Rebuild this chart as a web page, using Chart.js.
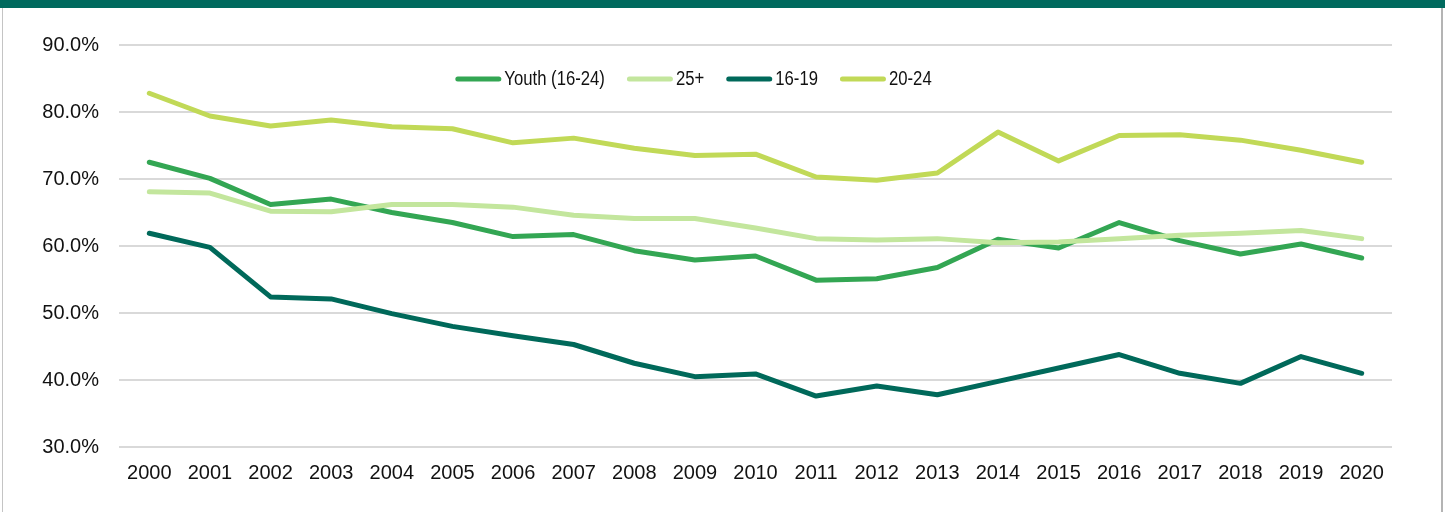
<!DOCTYPE html>
<html>
<head>
<meta charset="utf-8">
<script src="https://cdn.jsdelivr.net/npm/chart.js@4/dist/chart.umd.min.js"></script>
<style>
  html, body { margin: 0; padding: 0; background: #fff; }
  #wrap { position: relative; width: 1445px; height: 512px; background: #fff; overflow: hidden; }
  #c { position: absolute; left: 0; top: 0; }
  #bar { position: absolute; left: 0; top: 0; width: 1445px; height: 8px; background: #006a5e; }
  #bl { position: absolute; left: 2px; top: 8px; width: 1px; height: 504px; background: #c4c4c4; }
  #br { position: absolute; left: 1441px; top: 8px; width: 2px; height: 504px; background: #b4b4b4; }
</style>
</head>
<body>
<div id="wrap">
  <canvas id="c" width="1445" height="512"></canvas>
  <div id="bar"></div>
  <div id="bl"></div>
  <div id="br"></div>
</div>
<script>
const years = ['2000','2001','2002','2003','2004','2005','2006','2007','2008','2009','2010',
               '2011','2012','2013','2014','2015','2016','2017','2018','2019','2020'];
const seriesNames = ['Youth (16-24)', '25+', '16-19', '20-24'];
const youth    = [72.5,70.1,66.2,67.0,65.0,63.5,61.4,61.7,59.3,57.9,58.5,54.9,55.1,56.8,61.0,59.7,63.5,60.8,58.8,60.3,58.2];
const age25    = [68.1,67.9,65.2,65.1,66.2,66.2,65.8,64.6,64.1,64.1,62.7,61.1,60.9,61.1,60.5,60.6,61.1,61.6,61.9,62.3,61.1];
const age1619  = [61.9,59.8,52.4,52.1,49.9,48.0,46.6,45.3,42.5,40.5,40.9,37.6,39.1,37.8,39.8,41.8,43.8,41.0,39.5,43.5,41.0];
const age2024  = [82.8,79.4,77.9,78.8,77.8,77.5,75.4,76.1,74.6,73.5,73.7,70.3,69.8,70.9,77.0,72.7,76.5,76.6,75.8,74.3,72.5];
const yMin = 30, yMax = 90, yStep = 10;

const colors = ['#33a653', '#c3e69d', '#00695a', '#c1d957'];
const seriesData = [youth, age25, age1619, age2024];

const FONT = '"Liberation Sans", Arial, Helvetica, sans-serif';

const topLegend = {
  id: 'topLegend',
  afterDatasetsDraw(chart, args, opts) {
    const ctx = chart.ctx;
    ctx.save();
    ctx.font = opts.fontSize + 'px ' + FONT;
    const sx = opts.textScaleX;
    const items = chart.data.datasets.map(ds => ({
      label: ds.label, color: ds.borderColor,
      tw: ctx.measureText(ds.label).width * sx
    }));
    let total = 0;
    items.forEach((it, i) => { total += opts.sample + opts.textGap + it.tw + (i ? opts.itemGap : 0); });
    let x = opts.centerX - total / 2;
    const y = opts.centerY;
    items.forEach(it => {
      ctx.strokeStyle = it.color;
      ctx.lineWidth = 5;
      ctx.lineCap = 'round';
      ctx.beginPath();
      ctx.moveTo(x + 2.5, y);
      ctx.lineTo(x + opts.sample - 2.5, y);
      ctx.stroke();
      ctx.save();
      ctx.translate(x + opts.sample + opts.textGap, y);
      ctx.scale(sx, 1);
      ctx.fillStyle = '#111';
      ctx.textBaseline = 'middle';
      ctx.textAlign = 'left';
      ctx.fillText(it.label, 0, 0);
      ctx.restore();
      x += opts.sample + opts.textGap + it.tw + opts.itemGap;
    });
    ctx.restore();
  }
};

new Chart(document.getElementById('c'), {
  type: 'line',
  data: {
    labels: years,
    datasets: seriesNames.map((name, i) => ({
      label: name,
      data: seriesData[i],
      borderColor: colors[i],
      backgroundColor: colors[i],
      borderWidth: 5,
      borderCapStyle: 'round',
      borderJoinStyle: 'round',
      pointRadius: 0,
      pointHoverRadius: 0,
      tension: 0,
      fill: false,
      order: seriesNames.length - i
    }))
  },
  options: {
    responsive: false,
    animation: false,
    devicePixelRatio: 1,
    layout: { padding: { left: 0, right: 53, top: 45, bottom: 13 } },
    plugins: {
      legend: { display: false },
      tooltip: { enabled: false },
      topLegend: { fontSize: 20, textScaleX: 0.835, sample: 46, textGap: 3, itemGap: 22, centerX: 693.5, centerY: 79 }
    },
    scales: {
      x: {
        offset: true,
        grid: { display: false, drawTicks: false },
        border: { display: false },
        ticks: { color: '#111', font: { family: FONT, size: 20 }, padding: 14, maxRotation: 0, autoSkip: false }
      },
      y: {
        min: yMin, max: yMax,
        afterFit(scale) { scale.width = 119; },
        grid: { color: '#d9d9d9', lineWidth: 2, drawTicks: false },
        border: { display: false },
        ticks: {
          stepSize: yStep,
          color: '#111',
          font: { family: FONT, size: 20 },
          padding: 20,
          callback: v => v.toFixed(1) + '%'
        }
      }
    }
  },
  plugins: [topLegend]
});
</script>
</body>
</html>
